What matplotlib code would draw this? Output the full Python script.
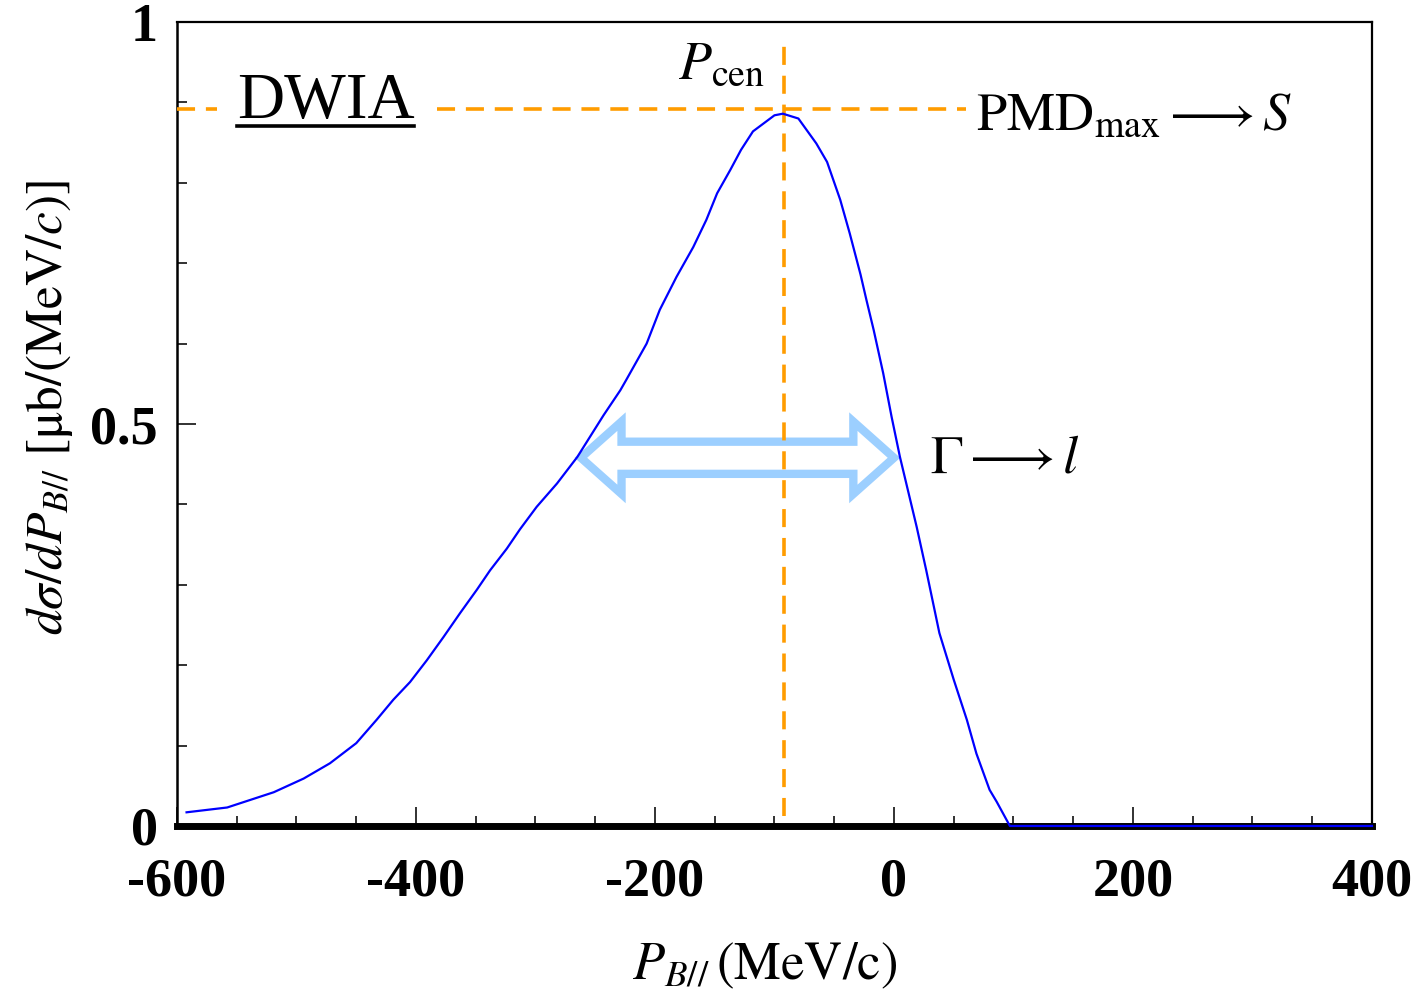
import matplotlib
matplotlib.use("Agg")
import matplotlib.pyplot as plt
import matplotlib.ticker as tck
from matplotlib.patches import Polygon
from matplotlib.lines import Line2D

plt.rcParams['font.family'] = ['Liberation Serif', 'DejaVu Serif']
plt.rcParams['mathtext.fontset'] = 'stix'
plt.rcParams['axes.unicode_minus'] = False

# DWIA momentum distribution
p_b = [-592, -558, -519, -494, -472, -450, -433, -419, -405, -391, -377, -363,
       -349, -338, -324, -313, -299, -282, -265, -243, -229, -224, -207, -196,
       -182, -168, -157, -148, -137, -128, -118, -109, -100, -93, -80, -65,
       -56, -45, -37, -28, -23, -17, -9, -2, 5, 19, 27, 38, 50, 61, 69, 80,
       86, 97, 400]
dsig = [0.017, 0.023, 0.042, 0.059, 0.078, 0.103, 0.132, 0.157, 0.179, 0.206,
        0.235, 0.265, 0.294, 0.318, 0.345, 0.369, 0.397, 0.426, 0.459, 0.511,
        0.542, 0.555, 0.600, 0.642, 0.683, 0.720, 0.754, 0.787, 0.816, 0.841,
        0.864, 0.874, 0.884, 0.886, 0.880, 0.849, 0.826, 0.779, 0.737, 0.686,
        0.654, 0.617, 0.563, 0.509, 0.459, 0.372, 0.318, 0.240, 0.182, 0.132,
        0.090, 0.045, 0.030, 0.0, 0.0]

x_ticks = [-600, -400, -200, 0, 200, 400]
x_ticklabels = ['-600', '-400', '-200', '0', '200', '400']
y_ticks = [0, 0.5, 1]
y_ticklabels = ['0', '0.5', '1']

p_cen = -92        # peak position
pmd_max = 0.892    # peak height marker
gamma_lo = -262    # width arrow ends
gamma_hi = 0
gamma_y = 0.458

orange = '#ff9c00'

fig = plt.figure(figsize=(14.16, 9.93), dpi=100)
ax = fig.add_axes([0.125, 0.1682, 0.8439, 0.8096])

ax.plot(p_b, dsig, color='#0000ff', lw=1.6, zorder=5, clip_on=False)

dash = (5, 3)
ax.plot([p_cen, p_cen], [0.0125, 0.975], color=orange, lw=2.6,
        dashes=dash, zorder=4)
ax.plot([-600, 60], [pmd_max, pmd_max], color=orange, lw=2.6,
        dashes=dash, zorder=4, clip_on=False)

# hollow double arrow for the width
hl = 34.0
hh = 0.045
sh = 0.020
pts = [(gamma_lo, gamma_y), (gamma_lo + hl, gamma_y + hh), (gamma_lo + hl, gamma_y + sh),
       (gamma_hi - hl, gamma_y + sh), (gamma_hi - hl, gamma_y + hh), (gamma_hi, gamma_y),
       (gamma_hi - hl, gamma_y - hh), (gamma_hi - hl, gamma_y - sh),
       (gamma_lo + hl, gamma_y - sh), (gamma_lo + hl, gamma_y - hh)]
ax.add_patch(Polygon(pts, closed=True, facecolor='none', edgecolor='#9ccfff',
                     lw=6, joinstyle='miter', zorder=3))

ax.set_xlim(-600, 400)
ax.set_ylim(0, 1)
ax.set_xticks(x_ticks)
ax.set_xticklabels(x_ticklabels)
ax.set_yticks(y_ticks)
ax.set_yticklabels(y_ticklabels)
ax.xaxis.set_minor_locator(tck.MultipleLocator(50))
ax.yaxis.set_minor_locator(tck.MultipleLocator(0.1))
ax.tick_params(which='both', direction='in', width=1.3, color='#222222')
ax.tick_params(which='major', length=13.5)
ax.tick_params(which='minor', length=7)
ax.tick_params(axis='x', which='major', pad=23)
ax.tick_params(axis='y', which='major', pad=14)
for lab in ax.get_xticklabels() + ax.get_yticklabels():
    lab.set_fontweight('bold')
    lab.set_fontsize(39)

ax.spines['bottom'].set_linewidth(5)
ax.spines['left'].set_linewidth(1.8)
ax.spines['top'].set_linewidth(1.6)
ax.spines['right'].set_linewidth(1.6)

# annotations
dw = ax.text(-550, 0.881, 'DWIA', fontsize=47, ha='left', va='baseline',
             bbox=dict(facecolor='white', edgecolor='none', pad=14), zorder=6)
ax.text(-181, 0.930, r'$P_{\mathrm{cen}}$', fontsize=39, ha='left', va='baseline')
ax.text(69, 0.866, r'$\mathrm{PMD}_{\mathrm{max}}\longrightarrow S$', fontsize=39,
        ha='left', va='baseline')
ax.text(30, 0.440, r'$\Gamma\longrightarrow l$', fontsize=39,
        ha='left', va='baseline')

fig.text(50 / 1416, 1 - 408 / 993,
         r'$d\sigma/dP_{B//}\ [\mathrm{\mu b/(MeV/}c\mathrm{)]}$',
         fontsize=37, rotation=90, ha='center', va='center')
fig.text(765 / 1416, 1 - 966 / 993, r'$P_{B//}\,\mathrm{(MeV/c)}$',
         fontsize=38, ha='center', va='center')

# underline under DWIA
fig.canvas.draw()
bb = dw.get_window_extent()
inv = fig.transFigure.inverted()
(x0, y0), (x1, _) = inv.transform([(bb.x0, bb.y0), (bb.x1, bb.y0)])
uy = inv.transform([(0, fig.bbox.height - 125.5)])[0][1]
fig.add_artist(Line2D([x0, x1], [uy, uy], color='black', lw=2.6,
                      transform=fig.transFigure, zorder=10))

fig.savefig('out.png', dpi=100)
